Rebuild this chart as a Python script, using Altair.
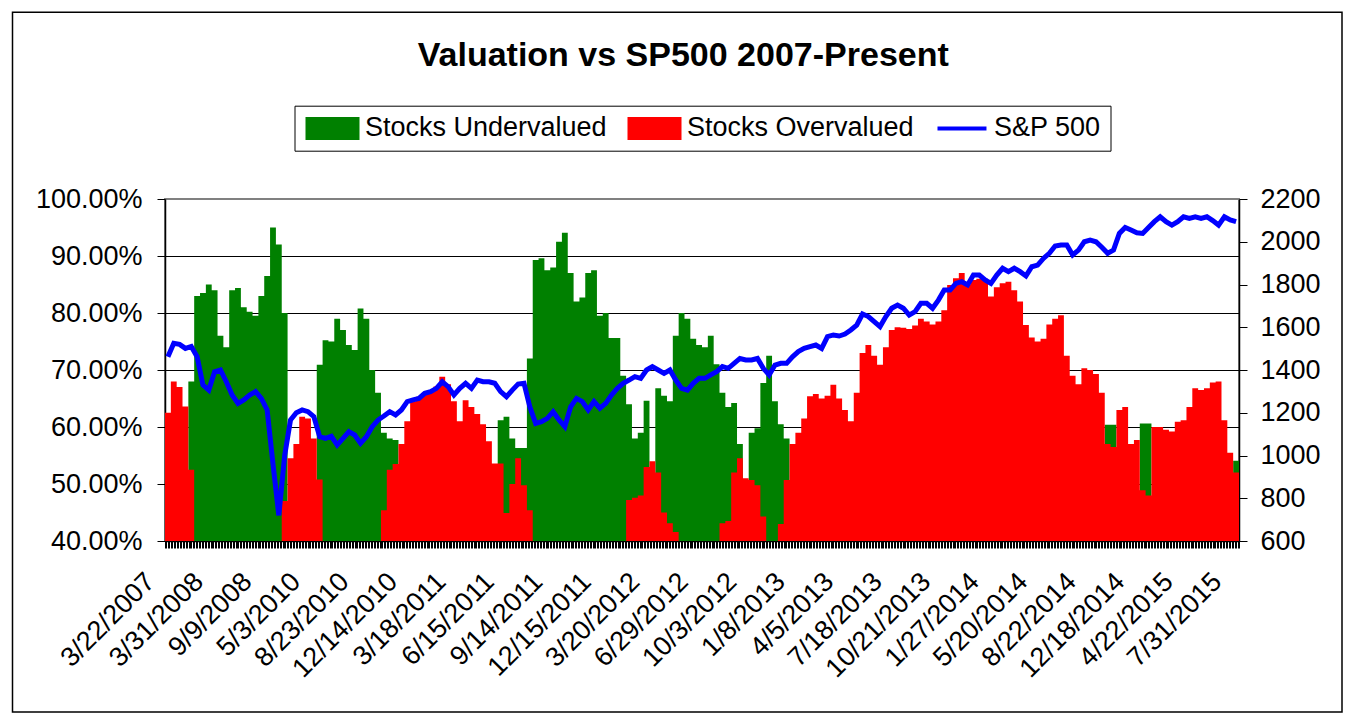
import altair as alt
import pandas as pd

# ---------------- data ----------------
N_CAT = 731          # number of categories on the x axis
LABEL_STEP = 33      # a date label every 33 categories
x_labels = ["3/22/2007", "3/31/2008", "9/9/2008", "5/3/2010", "8/23/2010",
            "12/14/2010", "3/18/2011", "6/15/2011", "9/14/2011", "12/15/2011",
            "3/20/2012", "6/29/2012", "10/3/2012", "1/8/2013", "4/5/2013",
            "7/18/2013", "10/21/2013", "1/27/2014", "5/20/2014", "8/22/2014",
            "12/18/2014", "4/22/2015", "7/31/2015"]

series_names = ["Stocks Undervalued", "Stocks Overvalued", "S&P 500"]
series_colors = ["#008000", "#FF0000", "#0000FF"]

# percent of stocks undervalued (40 = not visible above the axis floor)
undervalued = [
    40, 40, 40, 40, 68, 83, 83.5, 85, 84, 76,
    74, 84, 84.4, 81, 80.2, 79.5, 83, 86.5, 95, 92,
    80, 40, 40, 40, 40, 40, 70.9, 75.2, 75, 79,
    77, 74.4, 73.5, 80.8, 79, 70, 66, 59, 58, 57.7,
    40, 40, 40, 40, 40, 40, 40, 40, 40, 40,
    40, 40, 40, 40, 40, 40, 40, 61.2, 61.8, 58,
    56.3, 56.3, 72, 89.3, 89.6, 87.5, 88, 92.5, 94.1, 87,
    82, 82.7, 87, 87.5, 79.5, 80, 75.6, 75.6, 69, 64,
    58, 59, 64.6, 40, 66.8, 65.5, 64.5, 76, 80, 79,
    75.5, 74.4, 74, 76, 71, 66, 63.5, 64.2, 57, 40,
    59, 59.8, 67.7, 72.5, 64.5, 60.5, 58, 40, 40, 40,
    40, 40, 40, 40, 40, 40, 40, 40, 40, 40,
    40, 40, 40, 40, 40, 40, 40, 40, 40, 40,
    40, 40, 40, 40, 40, 40, 40, 40, 40, 40,
    40, 40, 40, 40, 40, 40, 40, 40, 40, 40,
    40, 40, 40, 40, 40, 40, 40, 40, 40, 40,
    40, 60.4, 60.4, 40, 40, 40, 40, 60.6, 60.6, 40,
    40, 40, 40, 40, 40, 40, 40, 40, 40, 40,
    40, 40, 40, 54.1,
]

# percent of stocks overvalued
overvalued = [
    62.5, 68, 67, 63.6, 52.5, 40, 40, 40, 40, 40,
    40, 40, 40, 40, 40, 40, 40, 40, 40, 40,
    47, 54.5, 57, 61.8, 61.5, 58, 50.8, 40, 40, 40,
    40, 40, 40, 40, 40, 40, 40, 45.4, 52.5, 53.5,
    57, 61, 64.5, 65.3, 66, 66.5, 67.1, 68.8, 67.5, 64.5,
    61, 64.7, 63.5, 62.3, 60.5, 57.5, 53.6, 53.6, 44.9, 50,
    54.5, 49.8, 45.4, 40, 40, 40, 40, 40, 40, 40,
    40, 40, 40, 40, 40, 40, 40, 40, 40, 47.2,
    47.6, 48, 53, 54, 52, 45, 43.1, 41.6, 40, 40,
    40, 40, 40, 40, 40, 43.1, 43.5, 52, 54.5, 51,
    50.7, 49.8, 44.3, 40, 40, 43, 50.7, 57, 59, 61.5,
    65.4, 65.8, 65, 65.5, 67.4, 65, 63, 61, 66, 73,
    74.4, 72.5, 70.9, 74, 77, 77.5, 77.4, 77.2, 77.8, 79,
    78.5, 78, 78.5, 80.5, 84.9, 86.1, 87, 85, 85.8, 86,
    86, 82.9, 84.5, 85.2, 85.5, 84, 82, 77.9, 75.7, 75,
    75.5, 78, 79, 79.6, 72.5, 69, 67.5, 70.3, 70, 69.3,
    66, 57, 56.5, 63, 63.5, 57, 57.7, 48.9, 48, 60,
    60, 59.5, 59.2, 60.9, 61.2, 63.5, 66.8, 66.5, 66.8, 67.8,
    68, 61.2, 55.5, 52,
]

# S&P 500 index level
sp500 = [
    1462, 1525, 1520, 1501, 1510, 1462, 1330, 1306, 1392, 1400,
    1345, 1283, 1244, 1260, 1283, 1299, 1267, 1213, 960, 720,
    1000, 1166, 1200, 1213, 1205, 1182, 1088, 1080, 1090, 1049,
    1080, 1111, 1096, 1057, 1088, 1135, 1166, 1185, 1205, 1190,
    1213, 1252, 1260, 1267, 1291, 1299, 1314, 1345, 1322, 1283,
    1314, 1338, 1314, 1353, 1345, 1345, 1338, 1299, 1275, 1306,
    1334, 1338, 1228, 1150, 1158, 1174, 1205, 1166, 1135, 1228,
    1267, 1252, 1213, 1252, 1221, 1244, 1283, 1314, 1338, 1353,
    1369, 1361, 1400, 1416, 1400, 1384, 1400, 1353, 1314, 1306,
    1338, 1361, 1361, 1377, 1392, 1416, 1408, 1431, 1454, 1447,
    1447, 1454, 1408, 1377, 1423, 1431, 1431, 1462, 1486, 1501,
    1509, 1517, 1501, 1556, 1564, 1559, 1568, 1587, 1610, 1662,
    1650, 1626, 1603, 1650, 1689, 1704, 1689, 1657, 1673, 1712,
    1712, 1689, 1727, 1774, 1774, 1805, 1813, 1798, 1844, 1844,
    1821, 1805, 1844, 1876, 1860, 1876, 1860, 1840, 1883, 1891,
    1922, 1946, 1980, 1985, 1985, 1938, 1961, 2000, 2008, 2000,
    1974, 1946, 1961, 2039, 2067, 2055, 2042, 2039, 2067, 2094,
    2117, 2094, 2078, 2094, 2117, 2109, 2117, 2109, 2117, 2099,
    2078, 2117, 2102, 2094,
]

# ---------------- tables ----------------
n = len(sp500)
step = N_CAT / n
area_df = pd.DataFrame({
    "xs": [k * step for k in range(n + 1)],
    "under": undervalued + [undervalued[-1]],
    "over": overvalued + [overvalued[-1]],
})
line_df = pd.DataFrame({"xm": [(k + 0.5) * step for k in range(n)], "sp": sp500})
legend_df = pd.DataFrame({"s": series_names})

FONT = "Liberation Sans, Arial, sans-serif"
FS = 27

label_js = "[" + ",".join("'" + s + "'" for s in x_labels) + "]"
x_scale = alt.Scale(domain=[0, N_CAT], nice=False, zero=False)
x_axis = alt.Axis(
    values=list(range(0, N_CAT + 1)),
    labelExpr=(f"(datum.value % {LABEL_STEP} == 0 && datum.value / {LABEL_STEP} < {len(x_labels)})"
               f" ? {label_js}[datum.value / {LABEL_STEP}] : ''"),
    labelAngle=315, labelAlign="right", labelBaseline="top",
    labelOffset=-24, labelPadding=20, labelOverlap=False,
    labelFont=FONT, labelFontSize=FS, labelColor="black",
    tickSize=7, tickColor="black", tickWidth=1,
    domainColor="black", domainWidth=1.5, grid=False, title=None,
)

y_scale = alt.Scale(domain=[40, 100], nice=False, zero=False)
y_axis = alt.Axis(
    orient="left", values=[40, 50, 60, 70, 80, 90, 100],
    labelExpr="format(datum.value, '.2f') + '%'",
    labelFont=FONT, labelFontSize=FS, labelColor="black", labelPadding=15,
    tickSize=8, tickColor="black", tickWidth=1,
    domainColor="black", domainWidth=1.5,
    grid=True, gridWidth=1,
    gridColor={"condition": {"test": "datum.value === 100", "value": "#808080"}, "value": "black"},
    title=None,
)

sp_scale = alt.Scale(domain=[600, 2200], nice=False, zero=False)
sp_axis = alt.Axis(
    orient="right", values=list(range(600, 2201, 200)), format="d",
    labelFont=FONT, labelFontSize=FS, labelColor="black", labelPadding=13,
    tickSize=8, tickColor="black", tickWidth=1,
    domainColor="black", domainWidth=1.5, grid=False, title=None,
)

green = alt.Chart(area_df).mark_area(interpolate="step-after", color=series_colors[0]).encode(
    x=alt.X("xs:Q", scale=x_scale, axis=x_axis),
    y=alt.Y("under:Q", scale=y_scale, axis=y_axis),
    y2=alt.datum(40),
)
red = alt.Chart(area_df).mark_area(interpolate="step-after", color=series_colors[1]).encode(
    x=alt.X("xs:Q", scale=x_scale, axis=x_axis),
    y=alt.Y("over:Q", scale=y_scale, axis=y_axis),
    y2=alt.datum(40),
)
bars = alt.layer(green, red)

line = alt.Chart(line_df).mark_line(color=series_colors[2], strokeWidth=5).encode(
    x=alt.X("xm:Q", scale=x_scale, axis=x_axis),
    y=alt.Y("sp:Q", scale=sp_scale, axis=sp_axis),
)

# legend (symbols only, no marks drawn)
swatch = "M-1,-1H3.696V1H-1Z"
line_swatch = "M-0.74,-0.174H3.52V0.174H-0.74Z"
legend = alt.Legend(
    title=None, orient="none", legendX=129.5, legendY=-93.3,
    direction="horizontal", columns=3,
    symbolSize=529, symbolStrokeWidth=0, symbolOpacity=1,
    labelFont=FONT, labelFontSize=FS, labelColor="black", labelLimit=500,
    labelOffset=34.5, columnPadding=18, padding=9,
    strokeColor="black", fillColor="white",
)
leg = alt.Chart(legend_df).mark_point(filled=True, opacity=1).encode(
    color=alt.Color("s:N", scale=alt.Scale(domain=series_names, range=series_colors), legend=legend),
    shape=alt.Shape("s:N", scale=alt.Scale(domain=series_names, range=[swatch, swatch, line_swatch]), legend=legend),
).transform_filter("false")

# outer frame of the chart
frame = alt.Chart(pd.DataFrame({"a": [0]})).mark_rect(
    fill="white", fillOpacity=0, stroke="black", strokeWidth=1.5
).encode(x=alt.value(-152.5), x2=alt.value(1177), y=alt.value(-186.7), y2=alt.value(513))

chart = alt.layer(frame, bars, line, leg).resolve_scale(y="independent").properties(
    width=1074, height=342,
    padding={"left": 157, "top": 191, "right": 106, "bottom": 174},
    autosize=alt.AutoSizeParams(type="none"),
    background="white",
    title=alt.TitleParams(
        "Valuation vs SP500 2007-Present", font=FONT, fontSize=34, fontWeight="bold",
        color="black", anchor="middle", frame="bounds", baseline="alphabetic",
        offset=-88.5, dx=6,
    ),
).configure_view(fill="#C0C0C0", stroke="#808080", strokeWidth=2)

chart.save("out.html", embed_options={"renderer": "svg", "actions": False})
